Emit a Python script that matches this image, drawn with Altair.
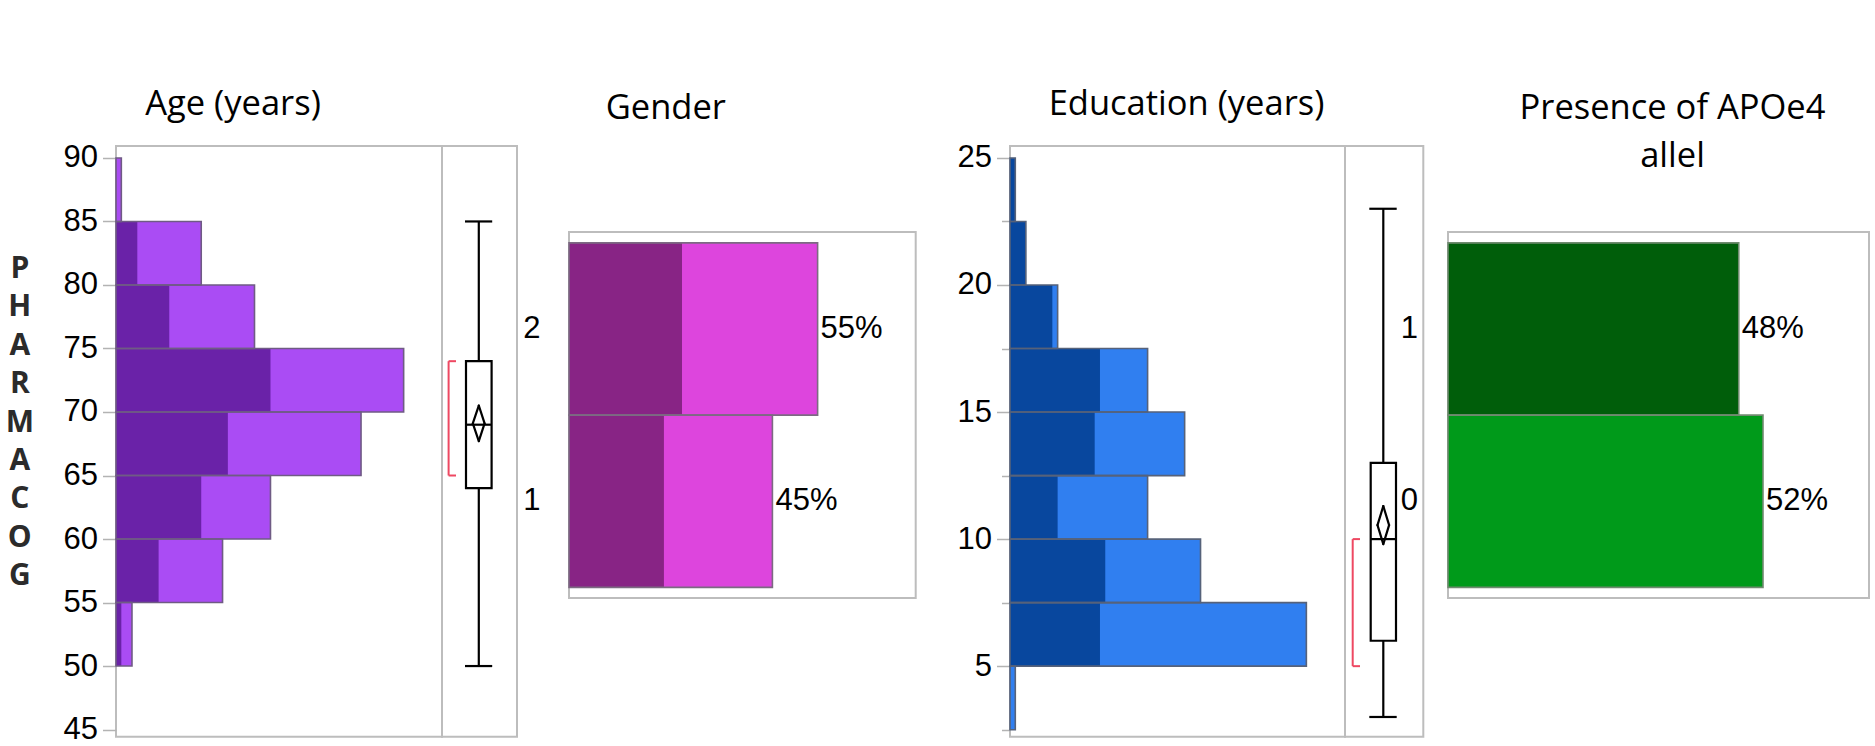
import altair as alt
import pandas as pd

# ---------------------------------------------------------------- data
# Age histogram, 5-year bins: all participants and APOe4 carriers
age_bin_start = [50, 55, 60, 65, 70, 75, 80, 85]
age_all = [3, 20, 29, 46, 54, 26, 16, 1]
age_carrier = [1, 8, 16, 21, 29, 10, 4, 0]

# Education histogram, 2.5-year bins
edu_bin_start = [2.5, 5, 7.5, 10, 12.5, 15, 17.5, 20, 22.5]
edu_all = [1, 56, 36, 26, 33, 26, 9, 3, 1]
edu_carrier = [0, 17, 18, 9, 16, 17, 8, 3, 1]

# box plots: [min, q1, median, q3, max], mean diamond [low, mean, high], shortest half
age_box = [50, 64, 69, 74, 85]
age_mean_ci = [67.7, 69.1, 70.5]
age_shortest_half = [65, 74]

edu_box = [3, 6, 10, 13, 23]
edu_mean_ci = [9.8, 10.55, 11.3]
edu_shortest_half = [5, 10]

# categorical shares (%)
gender_levels = ["2", "1"]
gender_pct = [55, 45]
gender_carrier_pct = [25, 21]

apoe4_levels = ["1", "0"]
apoe4_pct = [48, 52]

# ---------------------------------------------------------------- style
LABEL_FONT = "Liberation Sans"
TITLE_FONT = "Open Sans"
FRAME = "#bdbdbd"
TICK = "#b3b3b3"
PLOT_H = 590.8
SHARE_TOP = 86.1      # the share panels sit lower than the histograms
SHARE_BOTTOM = 452.1
AGE_DOMAIN = [44.43, 90.94]
EDU_DOMAIN = [2.22, 25.47]
TITLE_SIZE = 34.5
TICK_LABEL_SIZE = 31


def panel_title(text, dx, dy):
    return alt.TitleParams(
        text=text, anchor="middle", frame="group", dx=dx, dy=dy, offset=25,
        baseline="alphabetic", font=TITLE_FONT, fontSize=TITLE_SIZE, fontWeight="normal",
        color="black", lineHeight=48,
    )


def histogram(starts, step, counts, carriers, domain, x_max, width, colors, axis, title):
    df = pd.DataFrame({
        "start": starts,
        "end": [s + step for s in starts],
        "all": counts,
        "carrier": carriers,
    })
    y_scale = alt.Scale(domain=domain, nice=False, zero=False)
    x_scale = alt.Scale(domain=[0, x_max], nice=False)
    y = alt.Y("start:Q", scale=y_scale, axis=axis)
    base = alt.Chart(df)
    light = base.mark_rect(color=colors[0]).encode(
        x=alt.X("all:Q", scale=x_scale, axis=None), x2=alt.datum(0), y=y, y2="end:Q")
    dark = base.mark_rect(color=colors[1]).encode(
        x=alt.X("carrier:Q", scale=x_scale, axis=None), x2=alt.datum(0), y=y, y2="end:Q")
    edge = base.mark_rect(fillOpacity=0, stroke=colors[2], strokeWidth=1.6).encode(
        x=alt.X("all:Q", scale=x_scale, axis=None), x2=alt.datum(0), y=y, y2="end:Q")
    return alt.layer(light, dark, edge, title=title).properties(width=width, height=PLOT_H)


def boxplot(five, mean_ci, shorth, domain, width, geom):
    cx, bx0, bx1, c0, c1, d0, d1, r0, r1 = geom
    df = pd.DataFrame([{
        "min": five[0], "q1": five[1], "median": five[2], "q3": five[3], "max": five[4],
        "lo": mean_ci[0], "mean": mean_ci[1], "hi": mean_ci[2],
        "s_lo": shorth[0], "s_hi": shorth[1],
    }])
    y_scale = alt.Scale(domain=domain, nice=False, zero=False)

    def Y(f):
        return alt.Y(f"{f}:Q", scale=y_scale, axis=None)

    base = alt.Chart(df)
    black = dict(color="black", strokeWidth=2.2)
    red = dict(color="#ee4862", strokeWidth=2)
    layers = [
        base.mark_rule(**black).encode(x=alt.value(cx), y=Y("min"), y2="max:Q"),
        base.mark_rule(**black).encode(x=alt.value(c0), x2=alt.value(c1), y=Y("min")),
        base.mark_rule(**black).encode(x=alt.value(c0), x2=alt.value(c1), y=Y("max")),
        base.mark_rect(fill="white", stroke="black", strokeWidth=2.2).encode(
            x=alt.value(bx0), x2=alt.value(bx1), y=Y("q1"), y2="q3:Q"),
        base.mark_rule(**black).encode(x=alt.value(bx0), x2=alt.value(bx1), y=Y("median")),
        # mean diamond
        base.mark_rule(strokeCap="round", **black).encode(
            x=alt.value(cx), x2=alt.value(d1), y=Y("hi"), y2="mean:Q"),
        base.mark_rule(strokeCap="round", **black).encode(
            x=alt.value(d1), x2=alt.value(cx), y=Y("mean"), y2="lo:Q"),
        base.mark_rule(strokeCap="round", **black).encode(
            x=alt.value(cx), x2=alt.value(d0), y=Y("lo"), y2="mean:Q"),
        base.mark_rule(strokeCap="round", **black).encode(
            x=alt.value(d0), x2=alt.value(cx), y=Y("mean"), y2="hi:Q"),
        # shortest half bracket
        base.mark_rule(**red).encode(x=alt.value(r0), y=Y("s_lo"), y2="s_hi:Q"),
        base.mark_rule(**red).encode(x=alt.value(r0), x2=alt.value(r1), y=Y("s_lo")),
        base.mark_rule(**red).encode(x=alt.value(r0), x2=alt.value(r1), y=Y("s_hi")),
    ]
    return alt.layer(*layers).properties(width=width, height=PLOT_H)


def share_chart(levels, pct, x_max, width, label_pad, title, edge,
                fill=None, fills=None, carrier=None, carrier_fill=None):
    df = pd.DataFrame({"level": levels, "pct": pct, "label": [f"{p}%" for p in pct]})
    if carrier is not None:
        df["carrier"] = carrier
    y = alt.Y(
        "level:N", sort=levels,
        scale=alt.Scale(paddingInner=0, paddingOuter=0.0625, range=[SHARE_TOP, SHARE_BOTTOM]),
        axis=alt.Axis(title=None, ticks=False, domain=False, labelPadding=label_pad,
                      labelFont=LABEL_FONT, labelFontSize=TICK_LABEL_SIZE, labelColor="black",
                      labelAngle=0),
    )
    x_scale = alt.Scale(domain=[0, x_max], nice=False)
    x = alt.X("pct:Q", scale=x_scale, axis=None)
    base = alt.Chart(df)
    frame = alt.Chart(pd.DataFrame({"f": [0]})).mark_rect(
        fillOpacity=0, stroke=FRAME, strokeWidth=2).encode(
        x=alt.value(0), x2=alt.value(width),
        y=alt.value(SHARE_TOP), y2=alt.value(SHARE_BOTTOM))
    if fills is not None:
        bars = base.mark_bar().encode(
            x=x, y=y,
            color=alt.Color("level:N", scale=alt.Scale(domain=levels, range=fills), legend=None))
    else:
        bars = base.mark_bar(color=fill).encode(x=x, y=y)
    layers = [frame, bars]
    if carrier is not None:
        layers.append(base.mark_bar(color=carrier_fill).encode(
            x=alt.X("carrier:Q", scale=x_scale, axis=None), y=y))
    layers.append(base.mark_bar(fillOpacity=0, stroke=edge, strokeWidth=1.6).encode(x=x, y=y))
    layers.append(base.mark_text(align="left", baseline="middle", dx=3, font=LABEL_FONT,
                                 fontSize=31, color="black").encode(x=x, y=y, text="label:N"))
    return alt.layer(*layers, title=title).properties(
        width=width, height=PLOT_H, view=alt.ViewBackground(strokeOpacity=0))


def gap(w):
    return alt.Chart(pd.DataFrame({"g": [0]})).mark_point(opacity=0).properties(
        width=w, height=1, view=alt.ViewBackground(strokeOpacity=0))


# ---------------------------------------------------------------- panels
age_axis = alt.Axis(
    values=list(range(45, 91, 5)), grid=False, domain=False,
    tickSize=13.5, tickColor=TICK, tickWidth=1.5,
    labelFont=LABEL_FONT, labelFontSize=TICK_LABEL_SIZE, labelColor="black", labelPadding=5,
    title=list("PHARMACOG"), titleAngle=0, titleX=-96.7, titleY=122.5,
    titleAlign="center", titleBaseline="middle", titleFont=TITLE_FONT,
    titleFontWeight="bold", titleFontSize=30, titleLineHeight=38.4, titleColor="#2b2b2b",
)
edu_axis = alt.Axis(
    values=[2.5 * k for k in range(1, 11)], grid=False, domain=False,
    tickSize={"condition": {"test": "datum.value % 5 !== 0", "value": 8.5}, "value": 13.5},
    tickColor=TICK, tickWidth=1.5,
    labelExpr="datum.value % 5 === 0 ? datum.label : ''",
    labelFont=LABEL_FONT, labelFontSize=TICK_LABEL_SIZE, labelColor="black", labelPadding=5,
    title=None,
)

age_hist = histogram(age_bin_start, 5, age_all, age_carrier, AGE_DOMAIN, 61.2, 326,
                     ["#aa4cf4", "#6a22a8", "#6f5b84"], age_axis,
                     panel_title("Age (years)", -46, 32.5))
age_bp = boxplot(age_box, age_mean_ci, age_shortest_half, AGE_DOMAIN, 75,
                 (36.8, 24, 49.6, 23, 50.2, 30.8, 42.6, 6.6, 14))

edu_hist = histogram(edu_bin_start, 2.5, edu_all, edu_carrier, EDU_DOMAIN, 63.3, 335,
                     ["#307ff0", "#08479e", "#56627a"], edu_axis,
                     panel_title("Education (years)", 9, 32.5))
edu_bp = boxplot(edu_box, edu_mean_ci, edu_shortest_half, EDU_DOMAIN, 78.3,
                 (38.3, 25.7, 51, 24.3, 51.7, 32.5, 44.1, 7.7, 15))

gender = share_chart(gender_levels, gender_pct, 76.7, 346.7, 29,
                     panel_title("Gender", -76.5, 32.5), "#7c6a82",
                     fill="#dd45dd", carrier=gender_carrier_pct, carrier_fill="#882485")
apoe4 = share_chart(apoe4_levels, apoe4_pct, 69.5, 421, 30.5,
                    panel_title(["Presence of APOe4", "allel"], 14, 80), "#6f8a6f",
                    fills=["#005e0a", "#009a1a"])

chart = alt.hconcat(
    age_hist, age_bp, gap(51.6), gender, gap(94),
    edu_hist, edu_bp, gap(24), apoe4,
    spacing=0, bounds="flush",
).resolve_scale(
    color="independent",
).configure_view(
    stroke=FRAME, strokeWidth=2,
).properties(
    padding={"left": 4, "top": 85, "right": 0, "bottom": 0},
    background="white",
)

chart.save("out.html", embed_options={"renderer": "svg", "actions": False})
